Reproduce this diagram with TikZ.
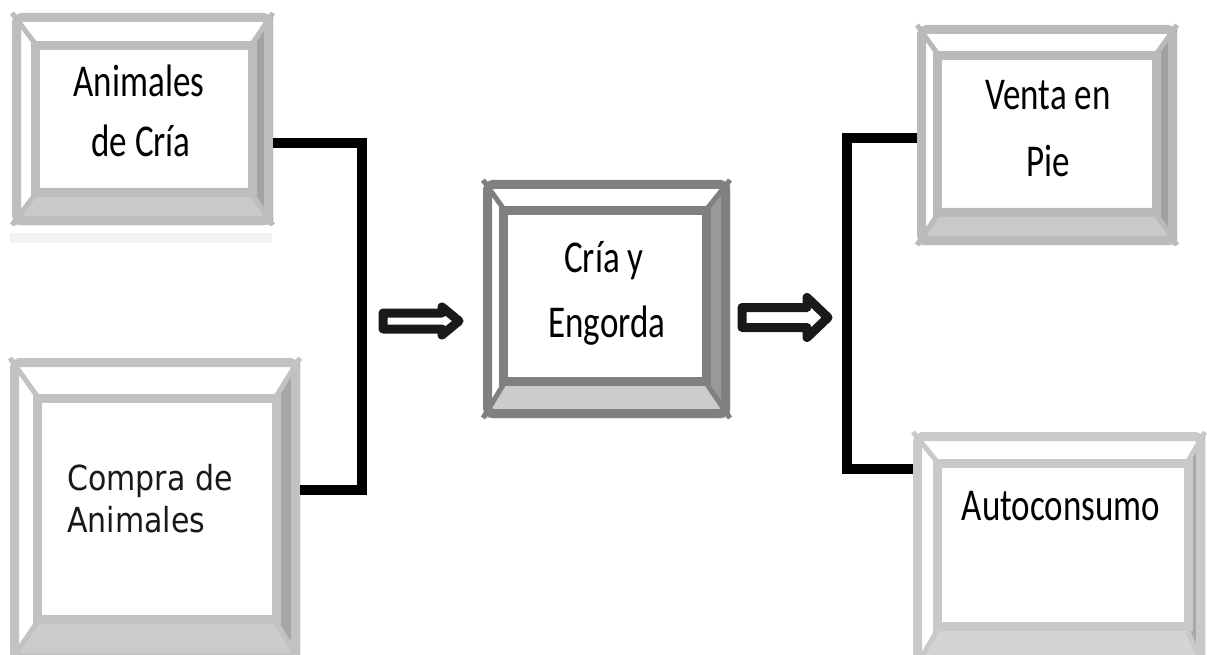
\documentclass[tikz,border=0pt]{standalone}
\usepackage{fontspec}
\setmainfont{Carlito}
\newfontfamily\lucida{DejaVu Sans}
\usetikzlibrary{calc}

% #1 name, #2-#5 outer extents (x1,y1,x2,y2), #6-#9 inner white extents
\newcommand\bevelbox[9]{%
  \node[inner sep=0pt, outer sep=0pt, minimum width={(#4-#2)*1pt},
        minimum height={(#5-#3)*1pt}, anchor=north west] (#1) at (#2,#3) {};
  \fill[white] (#2,#3) rectangle (#4,#5);
  \fill[bR] (#4,#3) -- (#4,#5) -- (#8,#9) -- (#8,#7) -- cycle;
  \fill[bB] (#2,#5) -- (#4,#5) -- (#8,#9) -- (#6,#9) -- cycle;
  \draw[bd, line width=5pt] (#2,#3) -- (#6,#7) (#4,#3) -- (#8,#7)
        (#4,#5) -- (#8,#9) (#2,#5) -- (#6,#9);
  \draw[bd, line width=9pt] ({#6-4.5},{#7-4.5}) rectangle ({#8+4.5},{#9+4.5});
  \draw[bd, line width=9pt, rounded corners=5pt] ({#2+4.5},{#3+4.5}) rectangle ({#4-4.5},{#5-4.5});
}
\newcommand\tallt[1]{\scalebox{1}[1.3]{#1}}
\newcommand\talll[1]{\scalebox{1}[1.15]{#1}}

\tikzset{
  lbl/.style={inner sep=0pt, anchor=base, text=black, font=\fontsize{35}{42}\selectfont},
  lblL/.style={inner sep=0pt, anchor=base west, text=black!90, font=\lucida\fontsize{30}{36}\selectfont},
  conn/.style={draw=black, line width=10pt},
  blockarrow/.style={draw=black!90, fill=white, line width=9pt, line join=round},
}

\begin{document}
\begin{tikzpicture}[x=1pt, y=-1pt]
  \clip (0,0) rectangle (1207,655);
  \fill[white] (0,0) rectangle (1207,655);
  \fill[black!5] (10,233) rectangle (272,243);

  % Animales de Cria
  \colorlet{bd}{black!26}\colorlet{bR}{black!36}\colorlet{bB}{black!21}
  \bevelbox{b1}{12}{13}{273}{225}{40}{50}{248}{188}
  % Compra de Animales
  \colorlet{bd}{black!24}\colorlet{bR}{black!35}\colorlet{bB}{black!20}
  \bevelbox{b2}{10}{358}{300}{662}{42}{403}{272}{615}
  % Cria y Engorda
  \colorlet{bd}{black!50}\colorlet{bR}{black!40}\colorlet{bB}{black!20}
  \bevelbox{b3}{483}{180}{730}{418}{508}{215}{702}{377}
  % Venta en Pie
  \colorlet{bd}{black!27}\colorlet{bR}{black!37}\colorlet{bB}{black!21}
  \bevelbox{b4}{917}{25}{1177}{245}{942}{60}{1152}{208}
  % Autoconsumo
  \colorlet{bd}{black!21}\colorlet{bR}{black!34}\colorlet{bB}{black!17}
  \bevelbox{b5}{913}{432}{1205}{672}{942}{468}{1184}{622}

  % texts
  \node[lbl] (t1a) at (139,97) {\tallt{Animales}};
  \node[lbl] (t1b) at (141,157) {\tallt{de Cría}};
  \node[lblL] (t2a) at (67,490) {\talll{Compra de}};
  \node[lblL] (t2b) at (67,532) {\talll{Animales}};
  \node[lbl] (t3a) at (604,272) {\tallt{Cría y}};
  \node[lbl] (t3b) at (607,337) {\tallt{Engorda}};
  \node[lbl] (t4a) at (1048,110) {\tallt{Venta en}};
  \node[lbl] (t4b) at (1048,177) {\tallt{Pie}};
  \node[lbl] (t5) at (1061,520) {\tallt{Autoconsumo}};

  % brackets
  \coordinate (L1) at (362,143);
  \coordinate (L2) at (362,490);
  \draw[conn] (b1.east |- L1) -- (L1) -- (L2) -- (b2.east |- L2);
  \coordinate (R1) at (847,138);
  \coordinate (R2) at (847,469);
  \draw[conn] (b4.west |- R1) -- (R1) -- (R2) -- (b5.west |- R2);

  % block arrows
  \coordinate (A1) at (383,321);
  \draw[blockarrow] (383,313) -- (442,313) -- (442,307) -- (459,321)
        -- (442,335) -- (442,329) -- (A1 |- 0,329) -- cycle;
  \coordinate (A2) at (742,317.5);
  \draw[blockarrow] (742,307.5) -- (807,307.5) -- (807,297.5) -- (828,317.5)
        -- (807,337.5) -- (807,327.5) -- (A2 |- 0,327.5) -- cycle;
\end{tikzpicture}
\end{document}
